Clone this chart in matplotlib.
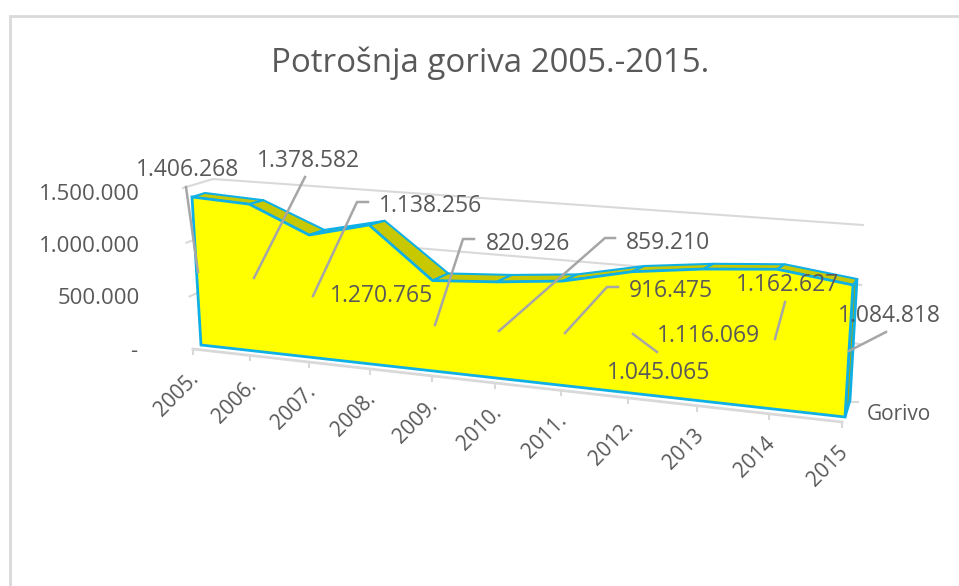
#!/usr/bin/env python3
import numpy as np
import matplotlib
matplotlib.use("Agg")
import matplotlib.pyplot as plt
from matplotlib.patches import Polygon
from matplotlib.transforms import Transform

years = ["2005.", "2006.", "2007.", "2008.", "2009.", "2010.",
         "2011.", "2012.", "2013", "2014", "2015"]
fuel = [1406268, 1378582, 1138256, 1270765, 820926, 859210,
        916475, 1045065, 1116069, 1162627, 1084818]
fuel_labels = ["1.406.268", "1.378.582", "1.138.256", "1.270.765", "820.926", "859.210",
               "916.475", "1.045.065", "1.116.069", "1.162.627", "1.084.818"]
y_ticks = [0, 500000, 1000000, 1500000]
y_tick_labels = ["-", "500.000", "1.000.000", "1.500.000"]
series_name = "Gorivo"
title = "Potrošnja goriva 2005.-2015."

# label layout in pixels, same order as years
label_pos = [(188, 170), (308, 161), (431, 206), (382, 296), (528, 244), (668, 243),
             (671, 291), (659, 373), (708, 336), (788, 285), (889, 316)]
leaders = [[(186, 187), (198, 272)],
           [(305, 177), (254, 278)],
           [(368, 202), (357, 202), (313, 296)],
           None,
           [(474, 239), (463, 239), (435, 325)],
           [(615, 238), (605, 238), (499, 331)],
           [(618, 287), (607, 287), (565, 333)],
           [(633, 334), (657, 352)],
           None,
           [(785, 302), (775, 339)],
           [(886, 332), (849, 351)]]
y_label_pos = [(137, 352), (140, 299), (140, 247), (140, 195)]

TEXT = "#595959"
GRID = "#D9D9D9"
LEADER = "#A6A6A6"
EDGE = "#0FB0E6"
plt.rcParams["font.family"] = ["Open Sans", "DejaVu Sans"]


class Plane(Transform):
    # perspective mapping of (category, value) onto the screen, from 4 known points
    input_dims = 2
    output_dims = 2

    def __init__(self, src, dst):
        super().__init__()
        rows, rhs = [], []
        for (x, y), (u, v) in zip(src, dst):
            y = y / 1e6
            rows.append([x, y, 1, 0, 0, 0, -u * x, -u * y])
            rows.append([0, 0, 0, x, y, 1, -v * x, -v * y])
            rhs += [u, v]
        self.h = np.append(np.linalg.solve(np.array(rows, float), rhs), 1).reshape(3, 3)

    def transform_non_affine(self, values):
        pts = np.asarray(values, float)
        xyw = np.c_[pts[:, 0], pts[:, 1] / 1e6, np.ones(len(pts))] @ self.h.T
        return xyw[:, :2] / xyw[:, 2:]


last = len(years) - 1
corners = [(0, 0), (last, 0), (0, fuel[0]), (last, fuel[-1])]
series_front = Plane(corners, [(201, 345), (845, 417), (192, 197), (853, 285)])
series_back = Plane(corners, [(214, 334), (850, 400), (205, 193), (857, 279)])
frame_corners = [(0, 0), (last, 0), (0, 1500000), (last, 1500000)]
frame_front = Plane(frame_corners, [(193, 349), (842, 422), (183, 188), (853, 239)])
frame_back = Plane(frame_corners, [(222, 334), (858, 402), (213, 179), (863, 225)])

fig = plt.figure(figsize=(9.59, 5.86), dpi=100)
ax = fig.add_axes([0, 0, 1, 1])
ax.set_xlim(0, 959)
ax.set_ylim(586, 0)
ax.axis("off")

# chart frame
ax.plot([10, 10, 959], [586, 16, 16], color=GRID, lw=2, solid_joinstyle="miter")

# walls and floor
for v in y_ticks:
    a = frame_front.transform([(0, v)])[0]
    b = frame_back.transform([(0, v)])[0]
    c = frame_back.transform([(last, v)])[0]
    if v > 0:
        ax.plot([a[0], b[0], c[0]], [a[1], b[1], c[1]], color=GRID, lw=1.5, zorder=1)
floor = frame_front.transform([(0, 0), (last, 0)])
ax.plot(floor[:, 0], floor[:, 1], color=GRID, lw=2, zorder=1)
for i in range(len(years)):
    p = frame_front.transform([(i, 0)])[0]
    ax.plot([p[0], p[0]], [p[1], p[1] + 5], color=GRID, lw=1.5, zorder=1)
    ax.annotate(years[i], xy=p, xytext=(3, -27), textcoords="offset pixels",
                rotation=45, rotation_mode="anchor", ha="right", va="center",
                fontsize=15, color=TEXT)
p = frame_back.transform([(last, 0)])[0]
ax.plot([p[0] - 8, p[0]], [p[1], p[1]], color=GRID, lw=1.5, zorder=1)
ax.text(899, 414, series_name, ha="center", va="center", fontsize=15, color=TEXT)

# value axis labels
for pos, lab in zip(y_label_pos, y_tick_labels):
    ax.text(pos[0], pos[1], lab, ha="right", va="center", fontsize=16, color=TEXT)

# area: right side, top strips, then the front face
xs = np.arange(len(years))
top = np.c_[xs, fuel]
front_top = series_front.transform(top)
back_top = series_back.transform(top)
side = np.r_[series_front.transform([(last, 0), (last, fuel[-1])]),
             series_back.transform([(last, fuel[-1]), (last, 0)])]
ax.add_patch(Polygon(side, fc="#A6A600", ec=EDGE, lw=2, zorder=2))
for i in range(last):
    strip = [front_top[i], back_top[i], back_top[i + 1], front_top[i + 1]]
    ax.add_patch(Polygon(strip, fc="#C8C800", ec=EDGE, lw=1.5, zorder=2))
base = series_front.transform([(last, 0), (0, 0)])
ax.add_patch(Polygon(np.r_[front_top, base], fc="#FFFF00", ec=EDGE, lw=2, zorder=3))

# data labels with leader lines
for lab, pos, line in zip(fuel_labels, label_pos, leaders):
    if line is not None:
        ax.plot([q[0] for q in line], [q[1] for q in line], color=LEADER, lw=1.8, zorder=4)
    ax.text(pos[0], pos[1], lab, ha="center", va="center", fontsize=16.5, color=TEXT, zorder=5)

ax.text(490, 63, title, ha="center", va="center", fontsize=23.8, color=TEXT)

fig.savefig("out.png", dpi=100)
